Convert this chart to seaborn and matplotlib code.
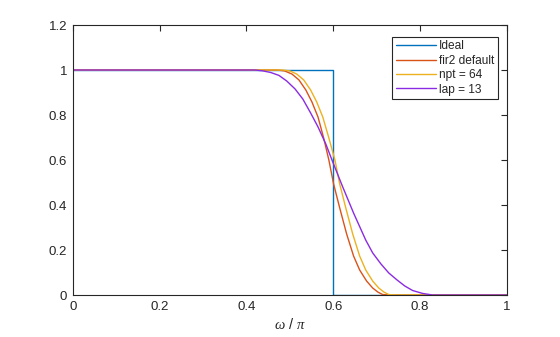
import matplotlib
matplotlib.use("Agg")
import matplotlib.pyplot as plt
import seaborn as sns
import pandas as pd
from matplotlib.ticker import FuncFormatter, FixedLocator

# Normalized frequency (omega / pi) and magnitude for each response
ideal_w = [0.0, 0.6, 0.6, 1.0]
ideal_m = [1.0, 1.0, 0.0, 0.0]

default_w = [0.0, 0.40, 0.472, 0.488, 0.505, 0.521, 0.537, 0.551, 0.565, 0.578,
             0.590, 0.601, 0.615, 0.631, 0.647, 0.661, 0.677, 0.691, 0.703,
             0.714, 0.730, 1.0]
default_m = [1.0, 1.0, 1.0, 0.996, 0.982, 0.956, 0.911, 0.858, 0.791, 0.698,
             0.600, 0.493, 0.387, 0.271, 0.173, 0.111, 0.062, 0.031, 0.013,
             0.002, 0.0, 0.0]

npt64_w = [0.0, 0.40, 0.484, 0.500, 0.516, 0.532, 0.548, 0.562, 0.576, 0.590,
           0.604, 0.615, 0.629, 0.645, 0.661, 0.675, 0.691, 0.705, 0.717,
           0.728, 0.744, 1.0]
npt64_m = [1.0, 1.0, 1.0, 0.996, 0.982, 0.956, 0.911, 0.858, 0.791, 0.698,
           0.600, 0.493, 0.387, 0.271, 0.173, 0.111, 0.062, 0.031, 0.013,
           0.002, 0.0, 0.0]

lap13_w = [0.0, 0.30, 0.419, 0.438, 0.456, 0.475, 0.493, 0.512, 0.530, 0.548,
           0.565, 0.583, 0.599, 0.622, 0.647, 0.675, 0.691, 0.710, 0.728,
           0.747, 0.765, 0.783, 0.806, 0.829, 1.0]
lap13_m = [1.0, 1.0, 1.0, 0.996, 0.989, 0.976, 0.951, 0.916, 0.871, 0.809,
           0.747, 0.671, 0.591, 0.480, 0.364, 0.244, 0.187, 0.138, 0.098,
           0.067, 0.040, 0.020, 0.007, 0.0, 0.0]

labels = ["Ideal", "fir2 default", "npt = 64", "lap = 13"]
colors = ["#0072BD", "#D95319", "#EDB120", "#8A2BE2"]

x_ticks = [0, 0.2, 0.4, 0.6, 0.8, 1]
y_ticks = [0, 0.2, 0.4, 0.6, 0.8, 1, 1.2]

series = [(ideal_w, ideal_m), (default_w, default_m),
          (npt64_w, npt64_m), (lap13_w, lap13_m)]
frames = []
for lab, (w, m) in zip(labels, series):
    frames.append(pd.DataFrame({"w": w, "mag": m, "filter": lab,
                                "order": range(len(w))}))
df = pd.concat(frames, ignore_index=True)

sns.set_style("white")
plt.rcParams["font.family"] = ["Liberation Sans", "DejaVu Sans"]
plt.rcParams["mathtext.fontset"] = "custom"
plt.rcParams["mathtext.it"] = "Liberation Serif:italic"
plt.rcParams["mathtext.rm"] = "Liberation Sans"

fig = plt.figure(figsize=(5.6, 3.37), dpi=100, facecolor="white")
ax = fig.add_axes([0.130, 0.1246, 0.775, 0.8012])

palette = dict(zip(labels, colors))
for lab in labels:
    sub = df[df["filter"] == lab]
    sns.lineplot(data=sub, x="w", y="mag", color=palette[lab], lw=1.0,
                 estimator=None, sort=False, ax=ax, label=lab)

ax.set_xlim(0, 1)
ax.set_ylim(0, 1.2)
ax.xaxis.set_major_locator(FixedLocator(x_ticks))
ax.yaxis.set_major_locator(FixedLocator(y_ticks))
fmt = FuncFormatter(lambda v, p: f"{v:g}")
ax.xaxis.set_major_formatter(fmt)
ax.yaxis.set_major_formatter(fmt)

axis_col = "#262626"
for sp in ax.spines.values():
    sp.set_visible(True)
    sp.set_color(axis_col)
    sp.set_linewidth(0.8)
ax.tick_params(axis="both", which="major", direction="in", length=4,
               width=0.8, color=axis_col, labelcolor=axis_col,
               labelsize=9.5, top=True, right=True, pad=4)

ax.set_xlabel(r"$\omega$ / $\pi$", fontsize=10.5, color=axis_col, labelpad=3)
ax.set_ylabel("")

leg = ax.legend(loc="upper right", bbox_to_anchor=(0.979, 0.956),
                borderaxespad=0, fontsize=8.6, frameon=True, fancybox=False,
                framealpha=1, edgecolor="#262626", handlelength=3.4,
                handletextpad=0.2, labelspacing=0.2, borderpad=0.3)
leg.get_frame().set_linewidth(0.8)
for t in leg.get_texts():
    t.set_color(axis_col)

fig.savefig("out.png", dpi=100, facecolor="white")
